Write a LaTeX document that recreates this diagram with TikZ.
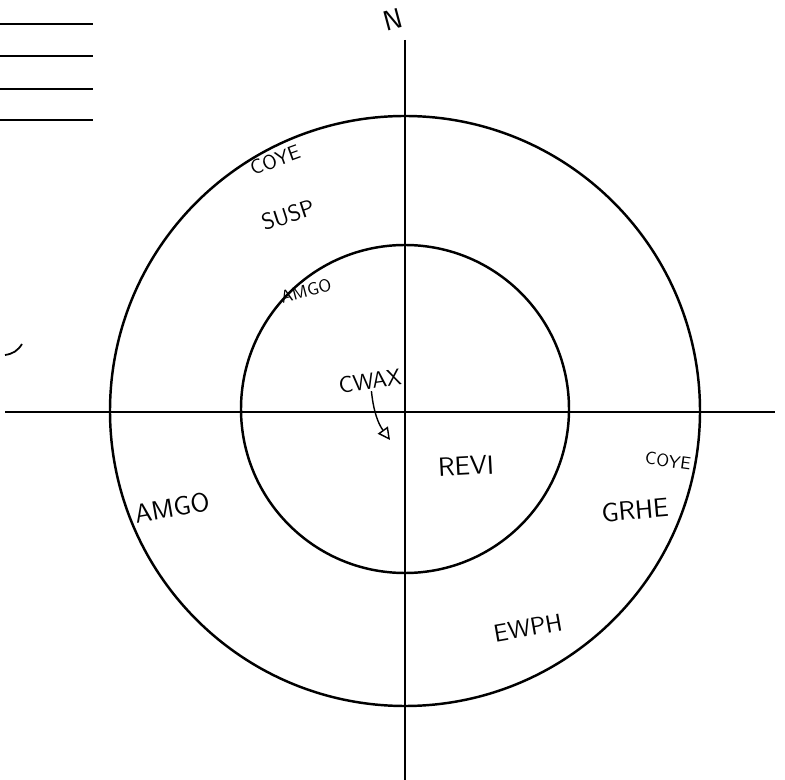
\documentclass[tikz,border=0pt]{standalone}
\usetikzlibrary{arrows.meta}

\begin{document}
\begin{tikzpicture}[
    x=0.02cm, y=-0.02cm,
    ring/.style={line width=1.4pt},
    axis/.style={line width=1.3pt},
    rule/.style={line width=1.3pt},
    bird/.style={font=\sffamily, inner sep=1pt},
    arrow/.style={-{Triangle[open, length=7pt, width=7pt]}, thick}
]
\useasboundingbox (0,0) rectangle (785,780);

% Rules at the top left
\foreach \y in {24,56,89,120}
    \draw[rule] (0,\y) -- (93,\y);

% Axes
\coordinate (west) at (5,412);
\coordinate (east) at (775,412);
\coordinate (north) at (405,40);
\coordinate (south) at (405,780);
\draw[axis] (west) -- (east);
\draw[axis] (north) -- (south);
\node[bird, font=\sffamily\fontsize{16}{18}\selectfont, rotate=15] (n) at (393,20) {N};

% Rings
\draw[ring] (405,411) circle[radius=295];
\draw[ring] (405,409) circle[radius=164];

% Stray mark at the left
\draw[line width=1pt] (5,355) to[bend right=25] (22,344);

% Species - north west
\node[bird, font=\sffamily\fontsize{11.5}{13}\selectfont, rotate=20] (coyeA) at (275,160) {COYE};
\node[bird, font=\sffamily\fontsize{13}{15}\selectfont, rotate=18] (susp) at (288,215) {SUSP};
\node[bird, font=\sffamily\fontsize{10}{12}\selectfont, rotate=15] (amgoA) at (306,291) {AMGO};
\node[bird, font=\sffamily\fontsize{13}{15}\selectfont, rotate=8] (cwax) at (370,381) {CWAX};
\coordinate (cwaxTip) at (390,440);
\draw[arrow] (cwax.south) to[bend right=15] (cwaxTip);

% Species - south
\node[bird, font=\sffamily\fontsize{15}{17}\selectfont, rotate=10] (amgoB) at (172,508) {AMGO};
\node[bird, font=\sffamily\fontsize{15}{17}\selectfont, rotate=3] (revi) at (466,466) {REVI};
\node[bird, font=\sffamily\fontsize{10}{12}\selectfont, rotate=-8] (coyeB) at (668,461) {COYE};
\node[bird, font=\sffamily\fontsize{15}{17}\selectfont, rotate=5] (grhe) at (635,510) {GRHE};
\node[bird, font=\sffamily\fontsize{14}{16}\selectfont, rotate=10] (ewph) at (528,628) {EWPH};

\end{tikzpicture}
\end{document}
